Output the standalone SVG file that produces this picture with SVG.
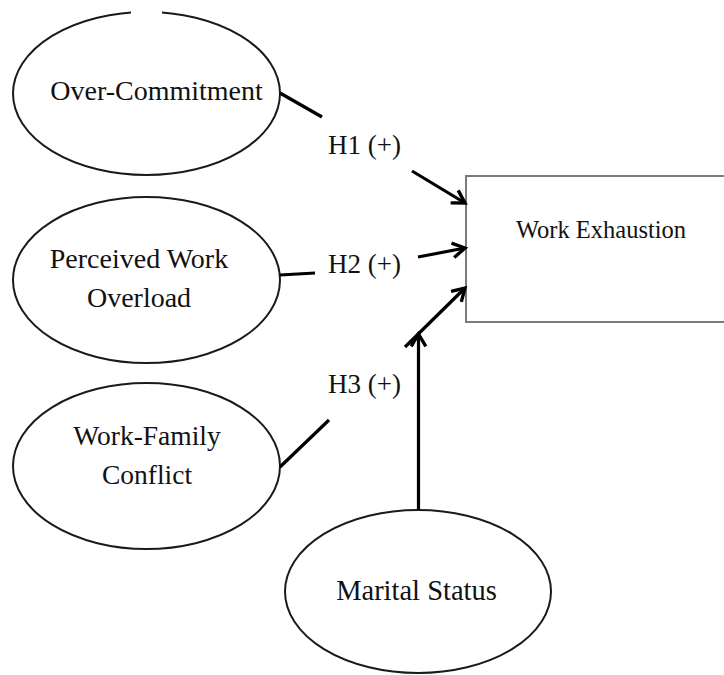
<svg xmlns="http://www.w3.org/2000/svg" width="724" height="675" viewBox="0 0 724 675">
<style>
.node ellipse{fill:#fff;stroke:#1a1a1a;stroke-width:2}
.box{fill:#fff;stroke:#7a7a7a;stroke-width:2}
text{font-family:"Liberation Serif","Times New Roman",serif;fill:#111;text-anchor:middle}
.lab{text-anchor:start;font-size:27px}
.conn line{stroke:#000;stroke-width:3.2;stroke-linecap:butt}
</style>
<defs>
<marker id="arr" markerUnits="userSpaceOnUse" markerWidth="18" markerHeight="18" viewBox="-12 -8 14 16" refX="0" refY="0" orient="auto">
<path d="M-11,-6.5 L0,0 L-11,6.5" fill="none" stroke="#000" stroke-width="3"/>
</marker>
</defs>
<rect width="724" height="675" fill="#fff"/>
<g id="work-exhaustion">
<rect class="box" x="466" y="176" width="270" height="146"/>
<text x="601" y="238" font-size="24.5">Work Exhaustion</text>
</g>
<g id="over-commitment" class="node">
<ellipse cx="146.5" cy="93.5" rx="133.5" ry="81.5"/>
<rect x="131" y="8" width="31" height="8" fill="#fff"/>
<text x="156.5" y="100" font-size="28">Over-Commitment</text>
</g>
<g id="perceived-work-overload" class="node">
<ellipse cx="146.5" cy="280" rx="133.5" ry="83"/>
<text x="139" y="268" font-size="28">Perceived Work</text>
<text x="139" y="307" font-size="28">Overload</text>
</g>
<g id="work-family-conflict" class="node">
<ellipse cx="146.5" cy="466" rx="133.5" ry="83"/>
<text x="147" y="445" font-size="27.5">Work-Family</text>
<text x="147" y="484" font-size="27.5">Conflict</text>
</g>
<g id="marital-status" class="node">
<ellipse cx="418" cy="591.5" rx="133" ry="81.5"/>
<text x="416.5" y="600" font-size="28.5">Marital Status</text>
</g>
<g id="connectors" class="conn">
<line x1="280" y1="93" x2="322" y2="117"/>
<line x1="412" y1="171" x2="465" y2="203" marker-end="url(#arr)"/>
<line x1="280" y1="275" x2="315" y2="273"/>
<line x1="418" y1="257" x2="465" y2="248" marker-end="url(#arr)"/>
<line x1="280" y1="467" x2="329" y2="420"/>
<line x1="405" y1="347" x2="465" y2="288" marker-end="url(#arr)"/>
<line x1="418.5" y1="510" x2="418.5" y2="334" marker-end="url(#arr)"/>
</g>
<g id="labels">
<text class="lab" x="328" y="154">H1 (+)</text>
<text class="lab" x="328" y="273">H2 (+)</text>
<text class="lab" x="328" y="393">H3 (+)</text>
</g>
</svg>
